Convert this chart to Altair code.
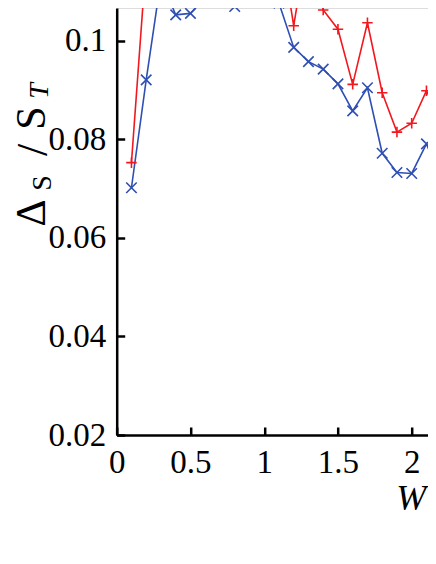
import altair as alt
import pandas as pd

# W values
w_values = [0.1, 0.2, 0.3, 0.4, 0.5, 0.6, 0.7, 0.8, 0.9, 1.0, 1.1,
            1.2, 1.3, 1.4, 1.5, 1.6, 1.7, 1.8, 1.9, 2.0, 2.1, 2.2]
# blue series (x markers)
blue_values = [0.0702, 0.0921, 0.1125, 0.1053, 0.1056, 0.1088, 0.1083, 0.1070,
               0.1120, 0.1130, 0.1077, 0.0987, 0.0958, 0.0943, 0.0913, 0.0858,
               0.0905, 0.0772, 0.0733, 0.0731, 0.0791, 0.0720]
# red series (+ markers)
red_values = [0.0753, 0.1164, 0.1190, 0.1180, 0.1170, 0.1185, 0.1195, 0.1200,
              0.1210, 0.1215, 0.1220, 0.1031, 0.1213, 0.1063, 0.1024, 0.0912,
              0.1037, 0.0895, 0.0815, 0.0833, 0.0899, 0.0838]
series_names = ["blue", "red"]
x_ticks = [0, 0.5, 1, 1.5, 2]
y_ticks = [0.02, 0.04, 0.06, 0.08, 0.1]

df = pd.DataFrame({
    "W": w_values * 2,
    "v": blue_values + red_values,
    "s": [series_names[0]] * len(w_values) + [series_names[1]] * len(w_values),
})

FONT = "Liberation Serif"
PAD_LEFT = 108.7
PLOT_W = 420 - PAD_LEFT
PLOT_H = 427
X_MAX = PLOT_W / 147.5

x_enc = alt.X("W:Q", scale=alt.Scale(domain=[0, X_MAX], nice=False, zero=False),
              axis=alt.Axis(values=x_ticks, title="W", titleFont=FONT, titleFontSize=36,
                            titleFontStyle="italic", titleFontWeight="normal",
                            titleX=294, titleY=63, titleBaseline="middle", titleAlign="center",
                            labelFont=FONT, labelFontSize=33, labelColor="black",
                            labelPadding=19, labelFlush=False,
                            tickSize=alt.ExprRef(expr="-8"), tickWidth=2.5, tickColor="black",
                            domainWidth=2.5, domainColor="black", grid=False,
                            labelExpr="datum.value == 0 ? '0' : format(datum.value, '.1~f')"))
y_enc = alt.Y("v:Q", scale=alt.Scale(domain=[0.02, 0.1067], nice=False, zero=False),
              axis=alt.Axis(values=y_ticks, title=None,
                            labelFont=FONT, labelFontSize=33, labelColor="black",
                            labelPadding=19, labelFlush=False,
                            tickSize=alt.ExprRef(expr="-8"), tickWidth=2.5, tickColor="black",
                            domainWidth=2.5, domainColor="black", grid=False,
                            labelExpr="datum.value == 0.1 ? '0.1' : format(datum.value, '.2f')"))

color_enc = alt.Color("s:N", scale=alt.Scale(domain=series_names, range=["#2f4fb3", "#f2181e"]),
                      legend=None)
shape_enc = alt.Shape("s:N", scale=alt.Scale(domain=series_names,
                                              range=["M-1,-1L1,1M-1,1L1,-1", "M-1,0L1,0M0,-1L0,1"]),
                      legend=None)

lines = alt.Chart(df).mark_line(strokeWidth=1.6, clip=True).encode(
    x=x_enc, y=y_enc, color=color_enc, detail="s:N")
points = alt.Chart(df).mark_point(filled=False, size=110, strokeWidth=1.6, opacity=1,
                                   clip=True).encode(
    x=x_enc, y=y_enc, color=color_enc, shape=shape_enc)

one = pd.DataFrame({"a": [0]})

def ytitle(txt, size, vx, vy, style="normal"):
    return alt.Chart(one).mark_text(text=txt, font=FONT, fontSize=size, fontStyle=style,
                                    angle=270, align="center", baseline="alphabetic",
                                    color="black").encode(x=alt.value(vx), y=alt.value(vy))

t_delta = ytitle("Δ", 42, -72, 205)
t_sub_s = ytitle("S", 28, -66, 175)
t_slash = ytitle("/", 44, -70, 142)
t_s = ytitle("S", 42, -72, 110)
t_sub_t = ytitle("T", 28, -69, 83, "italic")

chart = alt.layer(lines, points, t_delta, t_sub_s, t_slash, t_s, t_sub_t).properties(
    width=PLOT_W, height=PLOT_H,
    autosize=alt.AutoSizeParams(type="none"),
    padding={"left": PAD_LEFT, "top": 0, "right": 0, "bottom": 90},
).configure_view(stroke=None).configure(background="white")

chart.save("out.html", embed_options={"renderer": "svg", "actions": False})
